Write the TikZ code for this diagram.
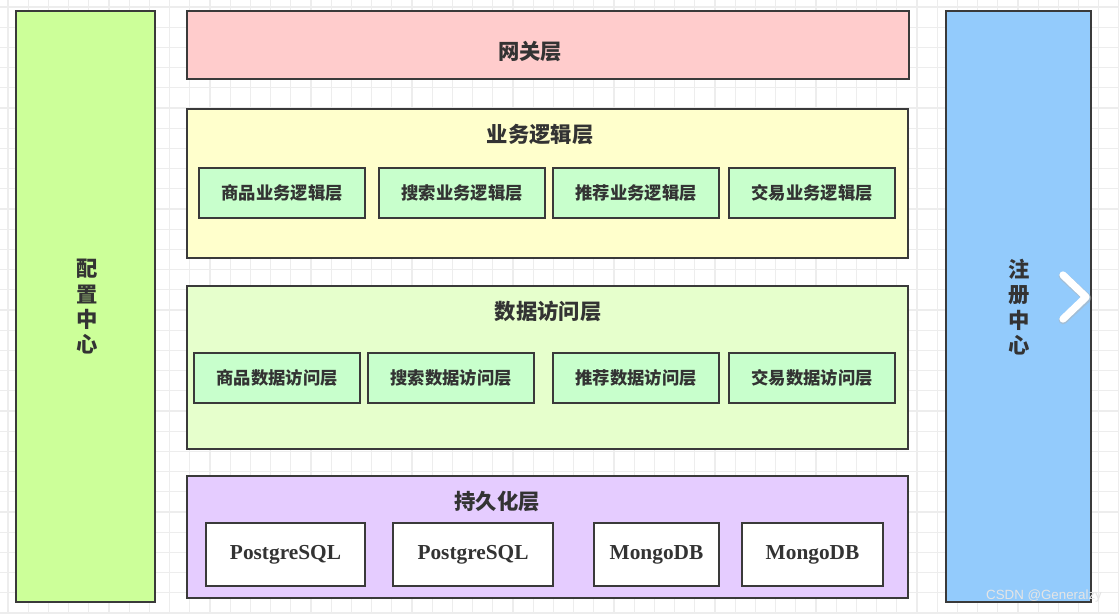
\documentclass[tikz,border=0pt]{standalone}
\usepackage{fontspec}
\setmainfont{Liberation Serif}
\newfontfamily\cjk{Noto Sans CJK SC}
\newfontfamily\wmfont{Liberation Sans}
\usepackage{tikz}
\usetikzlibrary{positioning}
\usepackage{xcolor}
\definecolor{cfggreen}{HTML}{CCFF99}
\definecolor{gatepink}{HTML}{FFCCCC}
\definecolor{bizyellow}{HTML}{FFFFCC}
\definecolor{mint}{HTML}{C8FFCC}
\definecolor{daogreen}{HTML}{E6FFCC}
\definecolor{storepurple}{HTML}{E5CCFF}
\definecolor{regblue}{HTML}{93CBFC}
\definecolor{edge}{HTML}{3A3A3A}
\definecolor{ink}{HTML}{333333}
\definecolor{gridgray}{HTML}{EDEDED}

\begin{document}
\begin{tikzpicture}[x=0.75pt, y=-0.75pt]
    \tikzstyle{layer} = [draw=edge, line width=1.8pt, inner sep=0pt]
    \tikzstyle{module} = [draw=edge, line width=1.8pt, fill=mint, text=ink,
        minimum width=124.2pt, minimum height=37.2pt,
        font=\cjk\bfseries\fontsize{13}{15}\selectfont]
    \tikzstyle{db} = [draw=edge, line width=1.8pt, fill=white, text=ink,
        minimum height=46.95pt, font=\bfseries\fontsize{16}{18}\selectfont]
    \tikzstyle{title} = [text=ink, font=\cjk\bfseries\fontsize{16}{18}\selectfont]
    \tikzstyle{side} = [text=ink, align=center,
        font=\cjk\bfseries\fontsize{16}{19}\selectfont]
    \useasboundingbox (0,0) rectangle (1119,613);
    \fill[white] (0,0) rectangle (1119,613);
    % background grid
    \foreach \gx in {0,...,55}
        \draw[gridgray, line width=0.8pt] (8+20.2*\gx,0) -- (8+20.2*\gx,613);
    \foreach \gy in {0,...,30}
        \draw[gridgray, line width=0.8pt] (0,7+20.2*\gy) -- (1119,7+20.2*\gy);

    % side columns
    \node [layer, fill=cfggreen, minimum width=103.95pt, minimum height=442.95pt]
        at (85.5,306.5) (cfg) {};
    \node [side] at (87,307) (cfgtext) {配\\置\\中\\心};
    \node [layer, fill=regblue, minimum width=108.45pt, minimum height=442.95pt]
        at (1018.5,306.5) (reg) {};
    \node [side] at (1019,307) (regtext) {注\\册\\中\\心};

    % gateway
    \node [layer, fill=gatepink, minimum width=541.2pt, minimum height=50.7pt]
        at (548,45) (gate) {};
    \node [title] at (530,52) (gatetext) {网关层};

    % business logic layer
    \node [layer, fill=bizyellow, minimum width=540.45pt, minimum height=111.45pt]
        at (547.5,183.5) (biz) {};
    \node [title] at (540,135) (biztext) {业务逻辑层};
    \node [module] at (282,193) (bizgoods) {商品业务逻辑层};
    \node [module, right=9pt of bizgoods] (bizsearch) {搜索业务逻辑层};
    \node [module, right=4.5pt of bizsearch] (bizrec) {推荐业务逻辑层};
    \node [module, right=6pt of bizrec] (biztrade) {交易业务逻辑层};

    % data access layer
    \node [layer, fill=daogreen, minimum width=540.45pt, minimum height=121.95pt]
        at (547.5,367.5) (dao) {};
    \node [title] at (548,311) (daotext) {数据访问层};
    \node [module] at (277,378) (daogoods) {商品数据访问层};
    \node [module, right=4.5pt of daogoods] (daosearch) {搜索数据访问层};
    \node [module, right=12.75pt of daosearch] (daorec) {推荐数据访问层};
    \node [module, right=6pt of daorec] (daotrade) {交易数据访问层};

    % persistence layer
    \node [layer, fill=storepurple, minimum width=540.45pt, minimum height=91.2pt]
        at (547.5,537) (store) {};
    \node [title] at (497,501) (storetext) {持久化层};
    \node [db, minimum width=118.95pt] at (285.5,554.5) (pg1) {PostgreSQL};
    \node [db, minimum width=119.7pt, right=19.5pt of pg1] (pg2) {PostgreSQL};
    \node [db, minimum width=93.45pt, right=29.25pt of pg2] (mongo1) {MongoDB};
    \node [db, minimum width=105.45pt, right=15.75pt of mongo1] (mongo2) {MongoDB};

    % viewer arrow and watermark
    \draw[gray!60, line width=6.5pt, line cap=round, line join=round, opacity=0.5]
        (1063,276) -- (1087,298) -- (1063,320);
    \draw[white, line width=5.5pt, line cap=round, line join=round]
        (1063,275) -- (1086,297) -- (1063,319);
    \node [text=white!80!gray, font=\wmfont\fontsize{10}{12}\selectfont]
        at (1044,596) (mark) {CSDN @Generalzy};
\end{tikzpicture}
\end{document}
